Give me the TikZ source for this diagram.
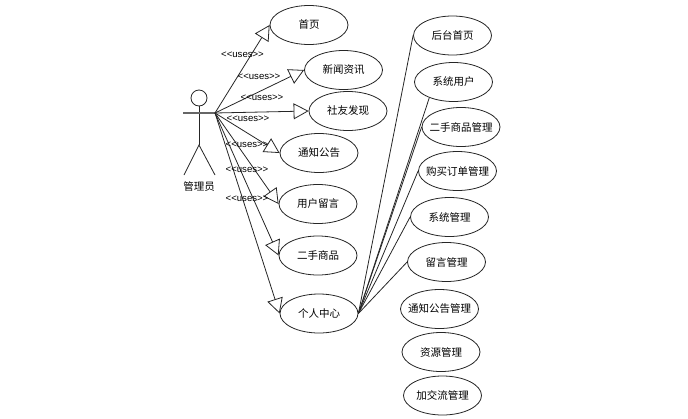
\documentclass[tikz,border=0pt]{standalone}
\usepackage{fontspec}
\usetikzlibrary{shapes.geometric,arrows.meta}
\newfontfamily\cjkf{Noto Sans CJK SC}
\newfontfamily\latf{Liberation Sans}
\newcommand{\zw}[1]{\makebox[0pt]{#1}}
\tikzset{
  ucase/.style={draw=black!85,ellipse,line width=0.8pt,inner sep=0pt,minimum width=78pt,minimum height=39pt,font=\cjkf\fontsize{10.5pt}{12pt}\selectfont},
  usesarrow/.style={draw=black!85,line width=0.8pt,-{Triangle[open,length=15pt,width=16pt,line width=0.8pt,fill=white]}},
  plainlink/.style={draw=black!85,line width=0.8pt},
  stick/.style={draw=black!85,line width=0.8pt},
  usestext/.style={font=\latf\fontsize{9.6pt}{10pt}\selectfont,inner sep=0pt}
}
\begin{document}
\begin{tikzpicture}[x=1pt,y=-1pt]
\useasboundingbox (0,0) rectangle (688,418);
% actor
\node[circle,draw=black!85,line width=0.8pt,minimum size=16pt,inner sep=0pt] (head) at (199,98) {};
\coordinate (neck) at (199,113);
\coordinate (hip) at (199,145);
\coordinate (handL) at (183,113);
\coordinate (hand) at (215,113);
\coordinate (footL) at (184,175);
\coordinate (footR) at (215,175);
\draw[stick] (head.south) -- (hip);
\draw[stick,draw=black!60,line width=1.1pt] (handL) -- (hand);
\draw[stick] (footL) -- (hip) -- (footR);
\node[font=\cjkf\fontsize{10.5pt}{12pt}\selectfont,inner sep=0pt] (actorlabel) at (199,187) {管理员};
% left use cases
\node[ucase] (u1) at (309,25) {\zw{首页}};
\node[ucase] (u2) at (343.5,70) {\zw{新闻资讯}};
\node[ucase] (u3) at (348,111) {\zw{社友发现}};
\node[ucase] (u4) at (319,153) {\zw{通知公告}};
\node[ucase] (u5) at (318,204) {\zw{用户留言}};
\node[ucase] (u6) at (318,255.5) {\zw{二手商品}};
\node[ucase] (u7) at (319,313.5) {\zw{个人中心}};
% right use cases
\node[ucase] (r1) at (452.5,35.5) {\zw{后台首页}};
\node[ucase] (r2) at (453.5,82) {\zw{系统用户}};
\node[ucase] (r3) at (461,127) {\zw{二手商品管理}};
\node[ucase] (r4) at (457.5,171) {\zw{购买订单管理}};
\node[ucase] (r5) at (449.5,217) {\zw{系统管理}};
\node[ucase] (r6) at (446.5,262) {\zw{留言管理}};
\node[ucase] (r7) at (439.5,309) {\zw{通知公告管理}};
\node[ucase] (r8) at (441,352) {\zw{资源管理}};
\node[ucase] (r9) at (442.5,395.5) {\zw{加交流管理}};
% uses links
\draw[usesarrow] (hand) -- (u1.west);
\draw[usesarrow] (hand) -- (u2.west);
\draw[usesarrow] (hand) -- (u3.west);
\draw[usesarrow] (hand) -- (u4.west);
\draw[usesarrow] (hand) -- (u5.west);
\draw[usesarrow] (hand) -- (u6.west);
\draw[usesarrow] (hand) -- (u7.west);
% uses labels
\node[usestext] (l1) at (242.5,54.5) {<<uses>>};
\node[usestext] (l2) at (259,77) {<<uses>>};
\node[usestext] (l3) at (262,98) {<<uses>>};
\node[usestext] (l4) at (248,119) {<<uses>>};
\node[usestext] (l5) at (247,144.5) {<<uses>>};
\node[usestext] (l6) at (247,169.5) {<<uses>>};
\node[usestext] (l7) at (247,199) {<<uses>>};
% plain links
\draw[plainlink] (u7.east) -- (r1.west);
\draw[plainlink] (u7.east) -- (r2.213);
\draw[plainlink] (u7.east) -- (r3.west);
\draw[plainlink] (u7.east) -- (r4.west);
\draw[plainlink] (u7.east) -- (r5.west);
\draw[plainlink] (u7.east) -- (r6.west);
\end{tikzpicture}
\end{document}
